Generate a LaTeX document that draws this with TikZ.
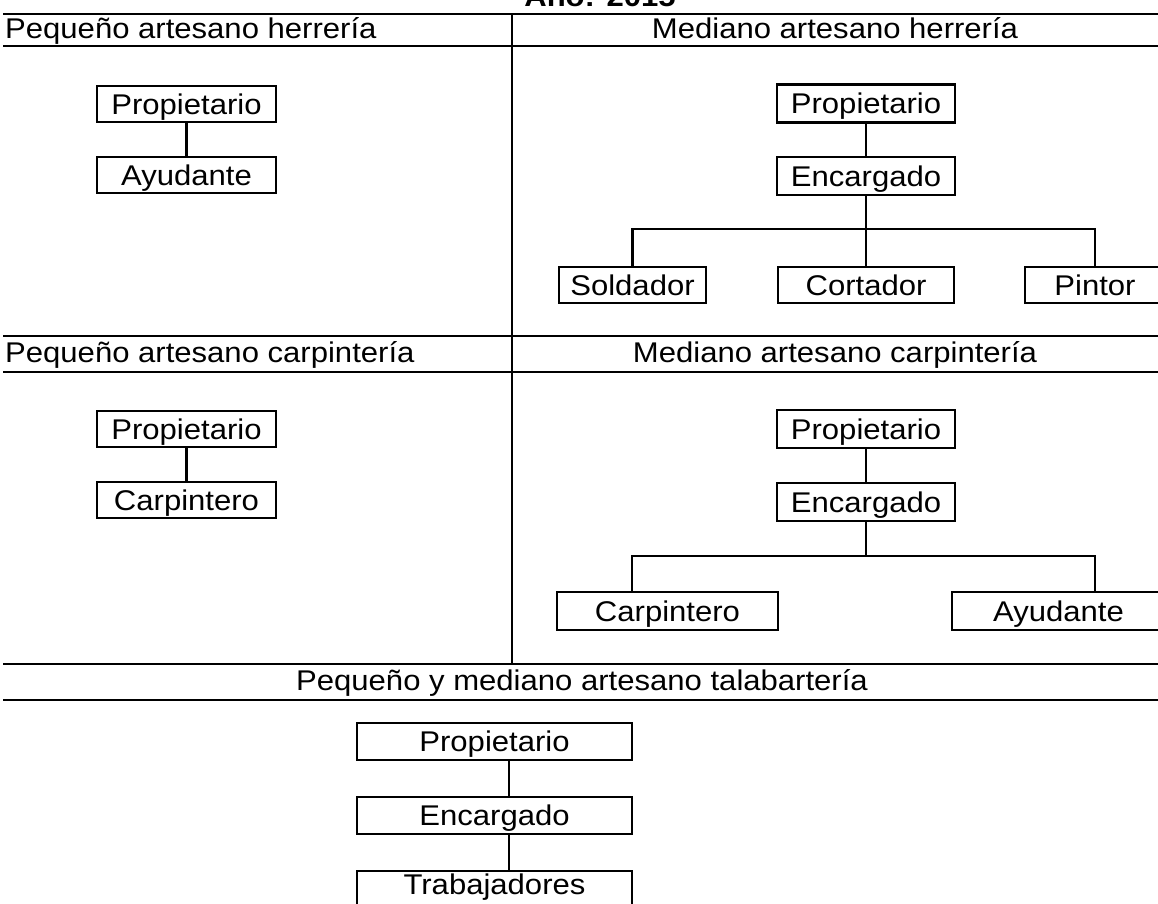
\documentclass[tikz,border=0pt]{standalone}
\usepackage{fontspec}
\setmainfont{Liberation Sans}[FakeStretch=1.09]
\begin{document}
\begin{tikzpicture}[x=1pt,y=-1pt,
  txt/.style={font=\fontsize{28.5}{32}\selectfont, inner sep=0pt},
  role/.style={txt, draw, line width=2.4pt, text height=20pt, text depth=0pt, align=center},
  rule/.style={line width=2pt},
  link/.style={line width=2.2pt},
  divider/.style={line width=1.8pt}]
\useasboundingbox (0,0) rectangle (1158,903);
\clip (0,0) rectangle (1158,903);

% title, mostly above the page edge
\node[txt, font=\fontsize{28.5}{32}\selectfont\bfseries, anchor=base] (title) at (600,6) {Año: 2015};

% section rules and divider
\coordinate (l0) at (3,14);   \coordinate (r0) at (1158,14);
\coordinate (l1) at (3,46);   \coordinate (r1) at (1158,46);
\coordinate (l2) at (3,336);  \coordinate (r2) at (1158,336);
\coordinate (l3) at (3,372);  \coordinate (r3) at (1158,372);
\coordinate (l4) at (3,664);  \coordinate (r4) at (1158,664);
\coordinate (l5) at (3,700);  \coordinate (r5) at (1158,700);
\coordinate (dtop) at (512,14); \coordinate (dbot) at (512,664);
\draw[rule] (l0) -- (r0);
\draw[rule] (l1) -- (r1);
\draw[rule] (l2) -- (r2);
\draw[rule] (l3) -- (r3);
\draw[rule] (l4) -- (r4);
\draw[rule] (l5) -- (r5);
\draw[divider] (dtop) -- (dbot);

% section headings
\node[txt, anchor=base west] (h1) at (5,38) {Pequeño artesano herrería};
\node[txt, anchor=base] (h2) at (835,38) {Mediano artesano herrería};
\node[txt, anchor=base west] (h3) at (5,362) {Pequeño artesano carpintería};
\node[txt, anchor=base] (h4) at (835,362) {Mediano artesano carpintería};
\node[txt, anchor=base] (h5) at (582,690) {Pequeño y mediano artesano talabartería};

% small blacksmith shop
\node[role, minimum width=179pt, minimum height=36pt] (p1) at (186.5,104) {Propietario};
\node[role, minimum width=179pt, minimum height=36pt] (a1) at (186.5,175) {Ayudante};
\draw[link] (p1.south) -- (a1.north);

% medium blacksmith shop
\node[role, minimum width=178pt, minimum height=38pt] (p2) at (866,103.5) {Propietario};
\node[role, minimum width=178pt, minimum height=38pt] (e2) at (866,176) {Encargado};
\node[role, minimum width=147pt, minimum height=36pt] (s2) at (632.5,285) {Soldador};
\node[role, minimum width=176pt, minimum height=36pt] (c2) at (866,285) {Cortador};
\node[role, minimum width=140pt, minimum height=36pt] (pi2) at (1095,285) {Pintor};
\coordinate (b1) at (866,229);
\draw[link] (p2.south) -- (e2.north);
\draw[link] (e2.south) -- (c2.north);
\draw[link] (s2.north) |- (b1) -| (pi2.north);

% small carpentry shop
\node[role, minimum width=179pt, minimum height=36pt] (p3) at (186.5,429) {Propietario};
\node[role, minimum width=179pt, minimum height=36pt] (c3) at (186.5,500) {Carpintero};
\draw[link] (p3.south) -- (c3.north);

% medium carpentry shop
\node[role, minimum width=178pt, minimum height=38pt] (p4) at (866,429) {Propietario};
\node[role, minimum width=178pt, minimum height=38pt] (e4) at (866,502) {Encargado};
\node[role, minimum width=221pt, minimum height=38pt] (c4) at (667.5,611) {Carpintero};
\node[role, minimum width=213pt, minimum height=38pt] (y4) at (1058.5,611) {Ayudante};
\coordinate (b2) at (866,556);
\coordinate (k1) at (632,0);
\coordinate (k2) at (1095,0);
\draw[link] (p4.south) -- (e4.north);
\draw[link] (e4.south) -- (b2);
\draw[link] (c4.north -| k1) |- (b2) -| (y4.north -| k2);

% saddlery shop
\node[role, minimum width=275pt, minimum height=37pt] (t1) at (494.5,741.5) {Propietario};
\node[role, minimum width=275pt, minimum height=37pt] (t2) at (494.5,815.5) {Encargado};
\node[role, minimum width=275pt, minimum height=35pt, text depth=8pt] (t3) at (494.5,888.5) {Trabajadores};
\coordinate (k3) at (509,0);
\draw[link] (t1.south -| k3) -- (t2.north -| k3);
\draw[link] (t2.south -| k3) -- (t3.north -| k3);
\end{tikzpicture}
\end{document}
